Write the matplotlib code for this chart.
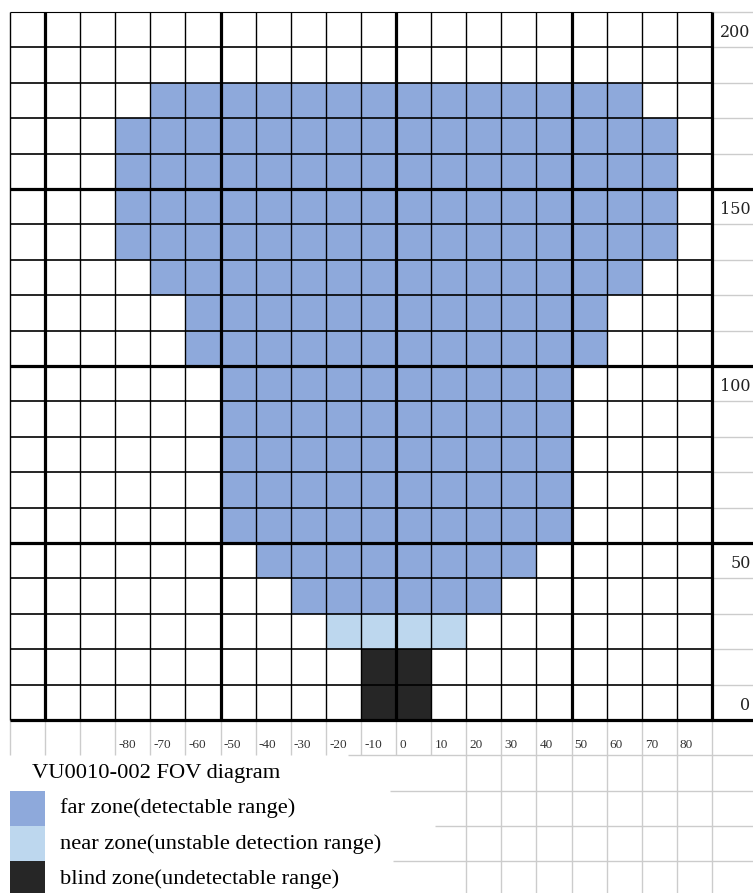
import numpy as np
import matplotlib.pyplot as plt

plt.rcParams['font.family'] = ['Liberation Serif', 'DejaVu Serif']

# distance bands (lower edge of each 10-unit row), and half width of each zone in that band
band_start = np.arange(0, 200, 10)
far_half = [0, 0, 0, 30, 40, 50, 50, 50, 50, 50, 60, 60, 70, 80, 80, 80, 80, 70, 0, 0]
near_half = [0, 0, 20, 0, 0, 0, 0, 0, 0, 0, 0, 0, 0, 0, 0, 0, 0, 0, 0, 0]
blind_half = [10, 10, 0, 0, 0, 0, 0, 0, 0, 0, 0, 0, 0, 0, 0, 0, 0, 0, 0, 0]

x_ticks = np.arange(-80, 90, 10)
y_labels = ['200', '150', '100', '50', '0']
y_label_rows = [200, 150, 100, 50, 10]

title = 'VU0010-002 FOV diagram'
zone_names = ['far zone(detectable range)',
              'near zone(unstable detection range)',
              'blind zone(undetectable range)']
zone_colors = ['#8EA9DB', '#BDD7EE', '#262626']

GRAY = '#cccccc'
X0, X1 = -112.85, 101.7
Y0, Y1 = -48.9, 203.4

fig = plt.figure(figsize=(7.53, 8.93), dpi=100)
ax = fig.add_axes([0, 0, 1, 1])
ax.set_xlim(X0, X1)
ax.set_ylim(Y0, Y1)
ax.axis('off')

# zones
for half, c in zip([far_half, near_half, blind_half], zone_colors):
    half = np.array(half)
    keep = half > 0
    ax.barh(band_start[keep], 2 * half[keep], left=-half[keep], height=10,
            align='edge', color=c, lw=0, zorder=1)

# grid
for x in np.arange(-110, 100, 10):
    lw = 2.3 if x in (-100, -50, 0, 50, 90) else 1.0
    ax.vlines(x, 0, 200, color='black', lw=lw, zorder=3)
for y in np.arange(0, 210, 10):
    if y % 50 == 0 and y < 200:
        ax.hlines(y, -110, X1, color='black', lw=2.3, zorder=3)
    else:
        ax.hlines(y, 90, X1, color=GRAY, lw=1.0, zorder=2)
        ax.hlines(y, -110, 90, color='black', lw=0.8 if y == 200 else 1.2, zorder=3)

# light sheet cells below the grid
ax.vlines(np.arange(-110, 100, 10), -10, 0, color=GRAY, lw=1.0, zorder=2)
ax.vlines(np.arange(20, 100, 10), Y0, -10, color=GRAY, lw=1.0, zorder=2)
for y, xs in zip([-10, -20, -30, -40], [-13.7, -1.7, 11.1, -0.9]):
    ax.hlines(y, xs, X1, color=GRAY, lw=1.0, zorder=2)

# axis labels
for t in x_ticks:
    ax.text(t + 0.9, -7, str(t), fontsize=9.5, ha='left', va='center', color='#333333')
for lab, r in zip(y_labels, y_label_rows):
    ax.text(101.0, r - 5.9, lab, fontsize=11.5, ha='right', va='center',
            color='#222222', family=['DejaVu Serif'])

# legend
ax.text(-103.7, -15.0, title, fontsize=16.2, ha='left', va='center')
for i, (name, c) in enumerate(zip(zone_names, zone_colors)):
    ax.bar(-110, -10, width=10, bottom=-20 - 10 * i, align='edge', color=c, lw=0)
    ax.text(-95.8, -25 - 10 * i, name, fontsize=16.2, ha='left', va='center')

fig.savefig('out.png', dpi=100)
